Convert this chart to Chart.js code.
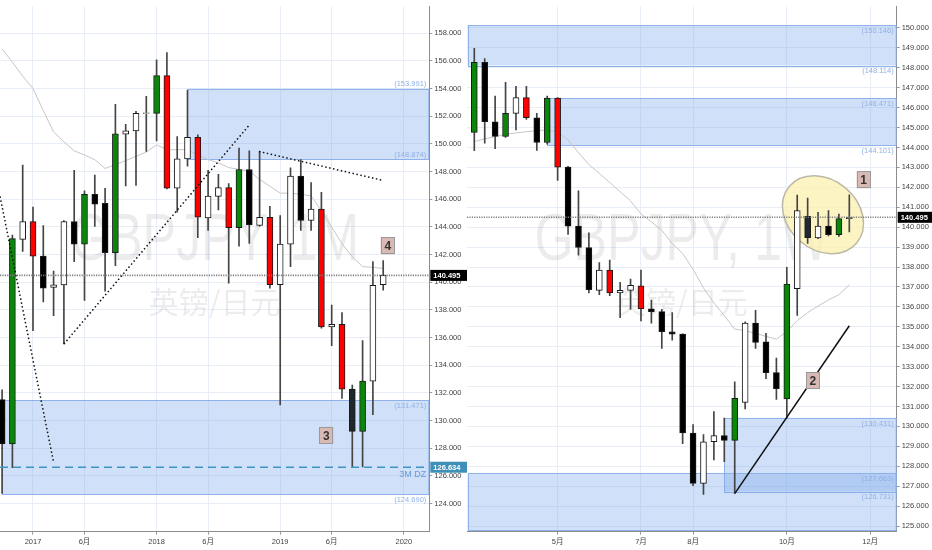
<!DOCTYPE html>
<html><head><meta charset="utf-8">
<script src="https://cdn.jsdelivr.net/npm/chart.js@4.4.1/dist/chart.umd.min.js"></script>
<style>
html,body{margin:0;padding:0;background:#fff;width:932px;height:550px;overflow:hidden}
#wl{position:absolute;left:0;top:0;width:467px;height:550px}
#wr{position:absolute;left:467px;top:0;width:465px;height:550px}
canvas{display:block}
</style></head><body>
<div id="wl"><canvas id="cl"></canvas></div>
<div id="wr"><canvas id="cr"></canvas></div>
<script>
// ---------- DATA: monthly GBPJPY (Oct 2016 - Nov 2019) ----------
const mOpen  = [131.52,128.31,143.10,144.39,141.89,139.63,139.80,144.39,142.75,146.36,145.70,142.13,150.70,150.93,152.20,152.20,154.93,146.79,148.91,150.48,144.65,146.20,146.84,143.94,148.15,144.10,144.70,139.82,142.75,147.67,144.46,145.29,136.78,136.96,132.28,129.23,132.85,139.82];
const mHigh  = [132.23,143.40,148.46,145.44,144.10,140.80,144.46,148.08,146.60,147.74,146.79,152.86,151.41,152.36,153.43,156.07,156.59,150.53,153.86,150.65,148.08,147.79,147.13,149.70,149.50,149.45,145.49,144.82,148.27,148.86,147.20,146.49,138.35,137.80,132.57,135.78,141.49,141.56];
const mLow   = [124.74,126.60,142.22,136.51,138.58,137.58,135.54,141.49,138.68,144.03,139.35,141.20,146.96,147.00,149.45,150.22,146.75,145.06,148.38,143.22,143.74,145.22,139.94,142.60,142.80,144.05,139.58,131.14,141.13,143.74,143.74,136.68,135.42,131.61,126.61,126.66,130.43,139.42];
const mClose = [128.31,143.15,144.39,141.89,139.58,139.82,144.39,142.75,146.36,145.65,142.13,150.72,150.95,152.20,152.25,154.93,146.79,148.91,150.48,144.70,146.22,146.84,143.94,148.15,144.15,144.70,139.82,142.75,147.67,144.46,145.29,136.78,136.96,132.28,129.23,132.85,139.78,140.495];
const mKind  = ['k','g','w','r','k','w','w','k','g','k','k','g','w','w','w','g','r','w','w','r','w','w','r','g','k','w','r','w','w','k','w','r','w','r','d','g','w','w'];
const mAvg   = [156.86,155.90,154.90,154.00,152.40,150.86,150.15,149.50,149.20,148.86,148.22,148.50,148.79,149.10,149.41,149.93,149.58,149.58,149.58,149.22,148.86,148.63,148.29,148.15,148.03,147.43,146.94,146.44,146.44,146.36,146.24,145.17,143.99,142.79,141.84,141.13,141.08,141.00];
const mTickIdx    = [3,8,15,20,27,32,39];
const mTickLabels = ['2017','6月','2018','6月','2019','6月','2020'];
const mPriceTicks = [124,126,128,130,132,134,136,138,140,142,144,146,148,150,152,154,156,158];

// ---------- DATA: weekly GBPJPY (11 Mar 2019 - 18 Nov 2019) ----------
const wOpen  = [144.76,148.27,145.29,144.55,145.71,146.50,145.49,144.25,146.48,143.01,140.05,138.98,136.83,137.85,136.70,136.83,137.06,135.90,135.76,134.75,134.63,129.67,127.14,129.23,129.54,129.30,131.20,135.18,134.25,132.70,131.38,136.91,140.55,139.46,140.05,139.62,140.43];
const wHigh  = [148.98,148.46,146.58,147.27,147.07,147.07,145.71,146.58,146.50,143.05,141.82,139.71,138.22,138.35,137.23,137.39,137.85,136.34,135.87,135.71,134.65,130.09,129.59,130.75,130.42,132.24,135.25,135.82,134.67,133.43,137.99,141.61,141.46,140.75,140.83,140.66,141.62];
const wLow   = [143.84,144.22,143.94,144.50,144.88,145.41,143.85,144.17,142.35,139.64,138.60,136.70,136.61,136.56,135.46,135.87,135.30,135.18,133.92,134.33,129.13,127.03,126.58,128.32,128.23,126.62,130.88,133.92,132.40,131.36,130.42,135.57,139.18,139.42,139.56,139.54,139.76];
const wClose = [148.27,145.29,144.55,145.71,146.50,145.49,144.25,146.48,143.01,140.05,138.98,136.86,137.85,136.70,136.83,137.08,135.90,135.76,134.75,134.63,129.67,127.14,129.23,129.54,129.30,131.41,135.18,134.22,132.70,131.90,137.14,140.83,139.47,140.05,139.62,140.43,140.495];
const wKind  = ['g','k','k','g','w','r','k','g','r','k','k','k','w','r','w','w','r','k','k','k','k','k','w','w','k','g','w','k','k','k','g','w','d','w','k','g','w'];
const wAvg   = [144.30,144.43,144.55,144.66,144.73,144.79,144.85,144.88,144.76,144.38,143.74,143.14,142.70,142.24,141.78,141.32,140.66,140.27,139.84,139.18,138.68,137.89,136.95,136.20,135.56,134.88,134.80,134.67,134.52,134.38,134.76,135.31,135.71,136.04,136.35,136.61,137.11];
const wTickIdx    = [8,16,21,30,38];
const wTickLabels = ['5月','7月','8月','10月','12月'];
const wPriceTicks = [125,126,127,128,129,130,131,132,133,134,135,136,137,138,139,140,141,142,143,144,145,146,147,148,149,150];

// ---------- annotations (values) ----------
const lastPrice = 140.495;
const dzLevel = 126.634;
const mZones = [ {x0:17.98, top:153.991, bottom:148.874}, {x0:0, top:131.471, bottom:124.690} ];
const wZones = [ {x0:-0.65, top:150.146, bottom:148.114}, {x0:7.0, top:146.471, bottom:144.101},
                 {x0:24.0, top:130.431, bottom:126.731}, {x0:-0.65, top:127.663, bottom:124.78} ];
const mZoneLabels = [ {v:153.991,pos:'above'}, {v:148.874,pos:'above'}, {v:131.471,pos:'below'}, {v:124.690,pos:'below'} ];
const wZoneLabels = [ {v:150.146,pos:'below'}, {v:148.114,pos:'below'}, {v:146.471,pos:'below'}, {v:144.101,pos:'below'},
                      {v:130.431,pos:'below'}, {v:127.663,pos:'below'}, {v:126.731,pos:'below'} ];
const mTrend1 = [{x:-0.2,y:146.2},{x:4.97,y:127.1}];
const mTrend2 = [{x:6,y:135.54},{x:24.0,y:151.36}];
const mTrend3 = [{x:24.94,y:149.45},{x:36.85,y:147.38}];
const wTrend  = [{x:25.03,y:126.65},{x:36.0,y:135.05}];
const mTags = [ {x:37.44,y:142.63,t:'4'}, {x:31.48,y:128.93,t:'3'} ];
const wTags = [ {x:37.38,y:142.38,t:'1'}, {x:32.51,y:132.30,t:'2'} ];
const wCircle = {x:33.47, y:140.625};

// ---------- styles ----------
const FONT = "'Liberation Sans','Noto Sans CJK SC',sans-serif";
const KCOL = {g:'#0a870a', r:'#ff0000', k:'#000000', w:'#ffffff', d:'#1f282d'};
const GRID = '#e8eef6';

function candleSets(O,H,L,C,K){
  const body=[], wick=[];
  for(let i=0;i<O.length;i++){
    wick.push({x:i,y:[L[i],H[i]]});
    body.push({x:i,y:[Math.min(O[i],C[i]),Math.max(O[i],C[i])]});
  }
  return [
    {type:'bar',data:body,barThickness:6,grouped:false,backgroundColor:K.map(k=>KCOL[k]),
     borderColor:'#1a1a1a',borderWidth:1,borderSkipped:false,order:1},
    {type:'bar',data:wick,barThickness:1,grouped:false,backgroundColor:'#444',borderWidth:0,order:2}
  ];
}
function lineSet(pts,color,width,dash,order){
  return {type:'line',data:pts,borderColor:color,borderWidth:width,borderDash:dash||[],pointRadius:0,
          tension:0,fill:false,order:order};
}

const panelPlugin = {
  id:'panel',
  beforeDatasetsDraw(chart,args,o){
    const {ctx,chartArea:a,scales:{x,y}} = chart;
    ctx.save();
    ctx.beginPath(); ctx.rect(a.left,a.top,a.width,a.height); ctx.clip();
    const cx=(a.left+a.right)/2;
    ctx.fillStyle='rgba(0,0,0,0.075)';
    ctx.textAlign='center'; ctx.textBaseline='alphabetic';
    ctx.save(); ctx.translate(cx,260); ctx.scale(0.76,1);
    ctx.font="66px 'Liberation Sans',sans-serif"; ctx.fillText(o.wm,0,0); ctx.restore();
    ctx.textBaseline='middle';
    ctx.font="30px 'Noto Sans CJK SC',sans-serif"; ctx.fillText('英镑/日元',cx,302);
    for(const b of o.zones){
      const x0=x.getPixelForValue(b.x0), x1=a.right;
      const y0=y.getPixelForValue(b.top), y1=y.getPixelForValue(b.bottom);
      ctx.fillStyle='rgba(120,165,235,0.35)';
      ctx.fillRect(x0,y0,x1-x0,y1-y0);
      ctx.strokeStyle='#8fb2ea'; ctx.lineWidth=1;
      ctx.strokeRect(Math.round(x0)+0.5,Math.round(y0)+0.5,x1-Math.round(x0)-1,Math.round(y1)-Math.round(y0));
    }
    if(o.circle){
      const px=x.getPixelForValue(o.circle.x), py=y.getPixelForValue(o.circle.y);
      ctx.beginPath(); ctx.ellipse(px,py,44,35,40*Math.PI/180,0,Math.PI*2);
      ctx.fillStyle='rgba(252,240,175,0.75)'; ctx.fill();
      ctx.strokeStyle='#bdb8a6'; ctx.lineWidth=1.5; ctx.stroke();
    }
    ctx.restore();
  },
  afterDatasetsDraw(chart,args,o){
    const {ctx,chartArea:a,scales:{x,y}} = chart;
    ctx.save();
    ctx.font="7.5px "+FONT; ctx.fillStyle='#8fb0e6'; ctx.textAlign='right';
    for(const l of o.zoneLabels){
      const py=y.getPixelForValue(l.v);
      if(l.pos==='above'){ctx.textBaseline='bottom'; ctx.fillText('('+l.v.toFixed(3)+')',a.right-3,py-1);}
      else {ctx.textBaseline='top'; ctx.fillText('('+l.v.toFixed(3)+')',a.right-3,py+2);}
    }
    if(o.dz){
      ctx.font="9px "+FONT; ctx.fillStyle='#6d9ad6'; ctx.textBaseline='top';
      ctx.fillText('3M DZ',a.right-3,y.getPixelForValue(dzLevel)+3);
    }
    for(const t of o.tags){
      const px=x.getPixelForValue(t.x), py=y.getPixelForValue(t.y);
      ctx.fillStyle='#d8b9b3'; ctx.fillRect(px-7,py-8.5,14,17);
      ctx.strokeStyle='#9a9a9a'; ctx.lineWidth=1; ctx.strokeRect(Math.round(px-7)+0.5,Math.round(py-8.5)+0.5,13,16);
      ctx.fillStyle='#333'; ctx.font="bold 12px "+FONT; ctx.textAlign='center'; ctx.textBaseline='middle';
      ctx.fillText(t.t,px,py+1);
    }
    ctx.restore();
  },
  afterDraw(chart,args,o){
    const {ctx,chartArea:a,scales:{y}} = chart;
    ctx.save();
    for(const p of o.priceTags){
      const py=y.getPixelForValue(p.v);
      ctx.fillStyle=p.bg; ctx.fillRect(a.right+1,py-5.5,chart.width-a.right-1,11);
      ctx.fillStyle='#fff'; ctx.font="bold 7.5px "+FONT; ctx.textAlign='left'; ctx.textBaseline='middle';
      ctx.fillText(p.v.toFixed(3),a.right+4,py+0.5);
    }
    ctx.restore();
  }
};

function makePanel(id,cfg){
  const ds = [].concat(
    candleSets(cfg.O,cfg.H,cfg.L,cfg.C,cfg.K),
    [lineSet(cfg.avg.map((v,i)=>({x:i,y:v})),'#c6c6c6',1,null,3)],
    cfg.lines,
    [lineSet([{x:cfg.xmin,y:lastPrice},{x:cfg.xmax,y:lastPrice}],'#7d7d7d',1.6,[1.2,1.2],0)]
  );
  return new Chart(document.getElementById(id),{
    type:'bar',
    data:{datasets:ds},
    plugins:[panelPlugin],
    options:{
      responsive:true,maintainAspectRatio:false,animation:false,events:[],
      layout:{padding:0},
      plugins:{legend:{display:false},tooltip:{enabled:false},
        panel:{wm:cfg.wm,zones:cfg.zones,zoneLabels:cfg.zoneLabels,tags:cfg.tags,circle:cfg.circle,dz:cfg.dz,priceTags:cfg.priceTags}},
      scales:{
        x:{type:'linear',min:cfg.xmin,max:cfg.xmax,offset:false,
           afterBuildTicks:s=>{s.ticks=cfg.xTicks.map(v=>({value:v}));},
           afterFit:s=>{s.height=18.3;},
           ticks:{callback:(v,i)=>cfg.xLabels[i],autoSkip:false,maxRotation:0,padding:3,color:'#444',font:{size:7.5,family:FONT}},
           grid:{offset:false,color:GRID,tickLength:3,tickColor:'#999'},
           border:{color:'#8c8c8c',width:1}},
        y:{type:'linear',position:'right',min:cfg.ymin,max:cfg.ymax,
           afterBuildTicks:s=>{s.ticks=cfg.yTicks.map(v=>({value:v}));},
           afterFit:s=>{s.width=cfg.yw;},
           ticks:{callback:v=>Number(v).toFixed(3),padding:2,color:'#444',font:{size:7.5,family:FONT}},
           grid:{offset:false,color:GRID,tickLength:3,tickColor:'#999'},
           border:{color:'#8c8c8c',width:1}}
      }
    }
  });
}

const mXmin=-0.2039, mXmax=41.476;
makePanel('cl',{
  O:mOpen,H:mHigh,L:mLow,C:mClose,K:mKind,avg:mAvg,
  xmin:mXmin,xmax:mXmax,ymin:121.975,ymax:159.926,yw:37.7,
  xTicks:mTickIdx,xLabels:mTickLabels,yTicks:mPriceTicks,
  wm:'GBPJPY, 1M',zones:mZones,zoneLabels:mZoneLabels,tags:mTags,circle:null,dz:true,
  priceTags:[{v:dzLevel,bg:'#3f90b8'},{v:lastPrice,bg:'#000'}],
  lines:[
    lineSet(mTrend1,'#111',1.5,[1.5,2.5],0),
    lineSet(mTrend2,'#111',1.5,[1.5,2.5],0),
    lineSet(mTrend3,'#111',1.5,[1.5,2.5],0),
    lineSet([{x:mXmin,y:dzLevel},{x:mXmax,y:dzLevel}],'#3f95c2',1.5,[8,5],0)
  ]
});
const wXmin=-0.7008, wXmax=40.549;
makePanel('cr',{
  O:wOpen,H:wHigh,L:wLow,C:wClose,K:wKind,avg:wAvg,
  xmin:wXmin,xmax:wXmax,ymin:124.715,ymax:151.076,yw:35.3,
  xTicks:wTickIdx,xLabels:wTickLabels,yTicks:wPriceTicks,
  wm:'GBPJPY, 1W',zones:wZones,zoneLabels:wZoneLabels,tags:wTags,circle:wCircle,dz:false,
  priceTags:[{v:lastPrice,bg:'#000'}],
  lines:[ lineSet(wTrend,'#111',1.5,null,0) ]
});
</script></body></html>
